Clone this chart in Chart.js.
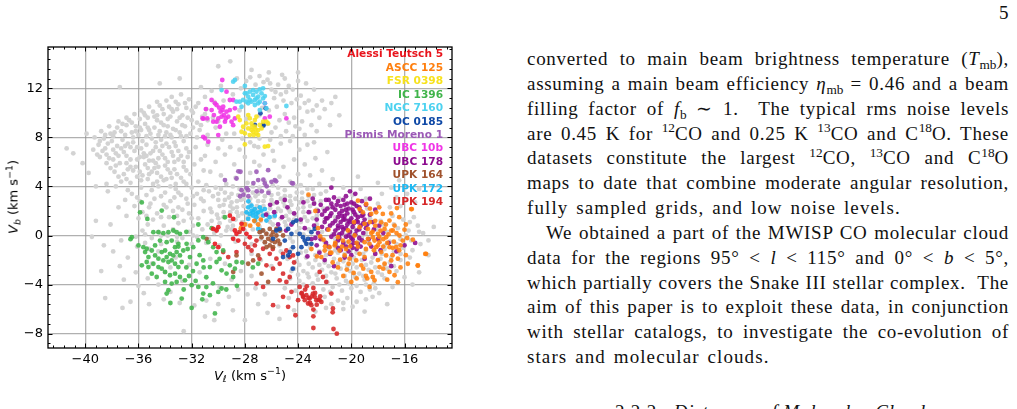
<!DOCTYPE html>
<html>
<head>
<meta charset="utf-8">
<script src="https://cdn.jsdelivr.net/npm/chart.js@4.4.1/dist/chart.umd.min.js"></script>
<style>
  html, body { margin: 0; padding: 0; background: #fff; width: 1017px; height: 409px; overflow: hidden; }
  #wrap { position: absolute; left: 0; top: 0; width: 470px; height: 400px; }
  .axt { position: absolute; font: 13px 'DejaVu Sans', sans-serif; color: #000; white-space: nowrap; }
  .axt sub, .axt sup { font-size: 0.72em; line-height: 0; }
  .axt sub { vertical-align: -0.3em; }
  .axt sup { vertical-align: 0.55em; }
  #ytitle { left: 13px; top: 197px; transform: translate(-50%, -50%) rotate(-90deg); }
  #xtitle { left: 250px; top: 375px; transform: translate(-50%, -50%); }
  #paper { position: absolute; left: 527px; top: 47px; width: 482px; font: 19px 'Liberation Serif', serif; letter-spacing: 0.7px; line-height: 24.85px; color: #111; }
  .ln { text-align: justify; text-align-last: justify; white-space: nowrap; }
  .ln.last { text-align-last: left; letter-spacing: 1.1px; word-spacing: 2px; }
  .ln.ind { padding-left: 19px; }
  .sb, .sp { font-size: 0.7em; line-height: 0; position: relative; letter-spacing: 0; }
  .sb { top: 0.3em; }
  .sp { top: -0.55em; }
  #pageno { position: absolute; left: 999px; top: 1px; font: 19px 'Liberation Serif', serif; line-height: 24.85px; color: #111; }
  #sect { position: absolute; left: 615px; top: 400px; font: 19px 'Liberation Serif', serif; letter-spacing: 0.8px; line-height: 24.85px; color: #111; white-space: nowrap; }
</style>
</head>
<body>
<div id="wrap"><canvas id="c"></canvas></div>
<div id="ytitle" class="axt"><i>V</i><sub><i>b</i></sub> (km s<sup>−1</sup>)</div>
<div id="xtitle" class="axt"><i>V</i><sub><i>ℓ</i></sub> (km s<sup>−1</sup>)</div>

<div id="pageno">5</div>
<div id="paper">
  <div class="ln">converted to main beam brightness temperature (<i>T</i><span class="sb">mb</span>),</div>
  <div class="ln">assuming a main beam efficiency <i>η</i><span class="sb">mb</span> = 0.46 and a beam</div>
  <div class="ln">filling factor of <i>f</i><span class="sb">b</span> ∼ 1.&nbsp; The typical rms noise levels</div>
  <div class="ln">are 0.45 K for <span class="sp">12</span>CO and 0.25 K <span class="sp">13</span>CO and C<span class="sp">18</span>O. These</div>
  <div class="ln">datasets constitute the largest <span class="sp">12</span>CO, <span class="sp">13</span>CO and C<span class="sp">18</span>O</div>
  <div class="ln">maps to date that combine moderate angular resolution,</div>
  <div class="ln last">fully sampled grids, and low noise levels.</div>
  <div class="ln ind">We obtained a part of the MWISP CO molecular cloud</div>
  <div class="ln">data for the regions 95° &lt; <i>l</i> &lt; 115° and 0° &lt; <i>b</i> &lt; 5°,</div>
  <div class="ln">which partially covers the Snake III stellar complex.&nbsp; The</div>
  <div class="ln">aim of this paper is to exploit these data, in conjunction</div>
  <div class="ln">with stellar catalogs, to investigate the co-evolution of</div>
  <div class="ln last">stars and molecular clouds.</div>
</div>
<div id="sect">2.2.2.&nbsp; <i>Distances of Molecular Clouds</i></div>

<script>
// ---- Axis ranges / ticks (km/s) ----
var X_MIN = -42.8, X_MAX = -12.43;
var Y_MIN = -9.17, Y_MAX = 15.37;
var MAJOR = 4, MINOR = 0.8;

// ---- Cluster names + colours (legend order) ----
var NAMES = ['Alessi Teutsch 5', 'ASCC 125', 'FSR 0398', 'IC 1396', 'NGC 7160', 'OC 0185',
  'Pismis Moreno 1', 'UBC 10b', 'UBC 178', 'UPK 164', 'UPK 172', 'UPK 194'];
var COLORS = ['#e8141c', '#ff7f0e', '#f7e21c', '#3fb44a', '#4dd2f0', '#0e48a6',
  '#9b59b6', '#f034e6', '#8c0a8e', '#a0522d', '#1db9f3', '#d62728'];

// ---- Field stars (grey) [Vl, Vb] ----
var gray = [
  // upper-left band
  [-33.5,11.3],[-32.8,11.5],[-33.9,11.0],[-32.2,11.1],[-34.6,10.9],[-31.5,10.8],
  [-35.2,10.5],[-34.4,10.6],[-33.7,10.5],[-33.0,10.7],[-32.4,10.4],[-31.7,10.5],[-30.9,10.3],[-35.8,10.2],
  [-36.3,9.9],[-35.6,10.0],[-34.9,10.1],[-34.1,9.9],[-33.4,10.1],[-32.7,9.8],[-31.9,10.0],[-31.2,9.7],[-36.9,9.6],
  [-37.5,9.3],[-36.7,9.4],[-35.9,9.5],[-35.3,9.6],[-34.6,9.4],[-33.8,9.5],[-33.1,9.3],[-32.3,9.6],[-31.6,9.2],[-30.8,9.4],
  [-38.2,8.9],[-37.6,8.8],[-36.9,9.0],[-36.2,8.9],[-35.5,9.1],[-34.8,8.8],[-34.1,9.0],[-33.4,8.7],[-32.7,9.0],[-31.9,8.8],
  [-38.8,8.5],[-38.1,8.3],[-37.3,8.5],[-36.5,8.4],[-35.8,8.6],[-35.1,8.3],[-34.4,8.5],[-33.6,8.2],[-32.9,8.4],[-32.1,8.3],[-31.4,8.6],
  [-39.3,8.0],[-38.6,7.9],[-37.9,8.1],[-37.2,7.8],[-36.4,8.0],[-35.7,7.7],[-35.0,7.9],[-34.3,7.8],[-33.5,8.0],[-32.6,7.7],
  [-39.0,7.4],[-38.3,7.5],[-37.6,7.3],[-36.8,7.5],[-36.1,7.2],[-35.4,7.4],[-34.7,7.2],[-33.9,7.5],[-33.2,7.3],[-32.4,7.1],
  [-39.4,7.0],[-38.7,6.9],[-37.9,7.0],[-37.1,6.8],[-36.3,6.9],[-35.6,6.7],[-34.9,6.9],[-34.2,6.6],[-33.5,6.8],[-32.8,6.5],
  [-38.9,6.4],[-38.2,6.3],[-37.5,6.5],[-36.6,6.2],[-35.9,6.4],[-35.2,6.1],[-34.5,6.3],[-33.8,6.0],[-33.0,6.2],[-32.3,6.4],
  [-38.4,5.9],[-37.7,5.7],[-36.9,5.9],[-36.2,5.6],[-35.5,5.8],[-34.8,5.5],[-34.0,5.7],[-33.3,5.4],[-32.6,5.6],[-31.8,5.8],
  [-37.8,5.2],[-37.1,5.0],[-36.4,5.3],[-35.7,4.9],[-35.0,5.2],[-34.3,4.8],[-33.6,5.1],[-32.8,4.7],[-32.1,5.0],
  [-37.3,4.4],[-36.6,4.3],[-35.8,4.5],[-34.9,4.2],[-34.1,4.5],[-33.2,4.2],[-31.5,4.4],
  [-41.4,7.1],[-40.9,6.7],[-39.75,5.1],[-38.4,4.2],[-37.4,12.1],[-34.4,12.4],[-40.2,5.9],[-39.9,8.3],
  [-36.0,8.2],[-35.3,8.8],[-34.6,9.8],[-33.8,8.9],[-33.1,10.3],[-32.5,8.9],[-37.0,7.3],[-36.4,7.6],[-35.6,6.4],
  [-34.9,6.1],[-34.2,7.3],[-33.3,6.0],[-36.8,5.4],[-35.2,5.0],[-34.5,5.6],[-33.9,4.6],[-37.9,6.2],[-38.5,7.1],
  [-33.2,10.9],[-32.5,10.8],[-34.2,10.3],[-33.5,10.3],[-32.0,10.2],[-35.5,9.8],[-34.8,9.7],[-34.3,9.2],[-33.6,9.7],
  [-32.9,9.6],[-32.0,9.4],[-31.3,9.0],[-37.2,9.1],[-36.5,9.2],[-35.9,8.8],[-35.2,8.6],[-34.5,8.2],[-33.9,8.4],[-33.2,8.6],
  [-32.4,8.1],[-31.6,8.0],[-38.5,8.2],[-37.8,8.4],[-37.0,8.2],[-36.2,8.5],[-35.4,8.1],[-34.7,7.6],[-34.0,8.1],[-33.3,7.6],
  [-32.8,8.1],[-38.9,7.7],[-38.0,7.7],[-37.3,7.1],[-36.6,7.2],[-35.8,7.1],[-35.1,6.7],[-34.4,6.9],[-33.7,7.2],[-33.0,6.9],
  [-32.2,6.8],[-39.1,6.6],[-38.4,6.6],[-37.7,6.7],[-36.9,6.5],[-36.1,6.2],[-35.4,6.5],[-34.7,5.9],[-34.0,6.3],[-33.4,6.5],
  [-32.6,6.0],[-38.1,5.5],[-37.4,5.9],[-36.6,5.6],[-35.9,5.2],[-35.3,5.5],[-34.6,5.1],[-33.8,5.4],[-33.1,5.0],[-32.4,5.3],
  [-37.5,4.8],[-36.9,4.6],[-36.1,4.8],[-35.3,4.6],[-34.6,4.4],[-33.5,4.7],[-32.6,4.4],[-31.1,5.3],[-31.3,6.2],[-30.8,8.2],
  [-31.0,9.9],[-30.4,9.6],
  // around the upper clusters
  [-30.5,11.8],[-29.8,12.2],[-28.9,11.5],[-28.3,12.0],[-27.9,12.6],[-27.2,12.3],[-26.6,12.5],[-26.0,11.9],[-25.5,12.3],
  [-24.9,11.7],[-24.4,11.9],[-23.8,11.4],[-23.2,11.0],[-22.6,10.6],[-25.8,11.2],[-25.1,11.0],[-24.5,10.8],[-23.9,10.4],
  [-23.3,10.1],[-26.2,10.2],[-25.6,10.5],[-25.0,9.9],[-24.3,9.6],[-23.7,9.3],[-26.9,9.8],[-26.3,9.1],[-25.7,8.8],
  [-24.9,8.5],[-24.2,8.9],[-23.5,8.2],[-28.8,8.3],[-28.2,7.9],[-27.6,7.6],[-26.9,7.9],[-26.1,7.8],[-25.3,7.5],[-24.6,7.7],
  [-30.2,8.8],[-30.8,7.4],[-29.7,7.8],[-29.1,7.2],[-23.0,9.0],[-22.4,9.6],[-22.0,10.3],[-21.5,10.8],[-21.2,11.3],
  [-22.8,11.9],[-24.0,12.6],[-23.4,12.4],[-25.2,13.1],[-29.1,14.2],[-30.0,13.8],[-27.5,13.5],[-26.2,13.3],[-32.9,12.8],
  [-31.3,12.1],[-28.4,10.2],[-27.9,9.5],[-26.7,10.4],[-29.6,11.0],[-30.3,10.9],[-31.0,11.3],[-25.0,12.8],[-24.0,13.3],
  [-28.6,12.8],[-27.6,12.9],[-26.9,13.0],[-26.3,12.7],[-25.7,11.7],[-25.3,11.5],[-24.7,12.2],[-24.1,11.1],[-23.5,10.8],
  [-22.9,10.2],[-25.4,9.4],[-24.7,9.2],[-23.9,8.7],[-26.0,8.4],[-25.3,8.1],[-24.4,8.1],[-27.3,7.3],[-28.4,7.0],[-29.4,8.3],
  [-30.0,9.3],[-23.3,7.4],[-22.6,8.5],[-22.2,11.0],[-26.1,12.4],
  [-31.0,6.5],[-30.2,6.0],[-29.5,6.6],[-28.8,5.8],[-28.0,6.4],[-27.3,6.0],[-26.6,6.6],[-25.8,6.1],[-25.1,5.6],[-24.3,6.2],
  [-23.5,5.8],[-22.7,6.3],[-30.6,5.2],[-29.8,4.9],[-28.7,4.7],[-27.6,5.1],[-26.9,5.7],[-25.4,4.8],[-24.0,5.0],[-23.1,4.9],
  [-22.2,5.3],[-21.4,4.6],[-31.7,7.2],[-30.0,7.1],[-27.0,7.2],[-25.9,6.9],[-23.9,7.0],[-22.8,7.6],[-21.8,6.8],
  // central cloud
  [-35.8,3.9],[-34.5,4.0],[-33.2,3.8],[-32.0,3.9],[-30.9,4.1],[-29.8,3.8],[-28.9,4.0],[-27.8,4.3],[-26.9,3.9],[-25.9,4.1],
  [-25.0,3.7],[-24.1,4.0],[-23.3,3.8],[-22.4,4.2],
  [-36.5,3.4],[-35.4,3.3],[-34.0,3.5],[-32.8,3.3],[-31.6,3.4],[-30.4,3.2],[-29.5,3.5],[-28.5,3.3],[-27.4,3.5],[-26.5,3.2],
  [-25.5,3.4],[-24.6,3.2],[-23.7,3.5],[-22.8,3.3],[-21.9,3.6],
  [-37.0,2.9],[-35.9,2.8],[-34.8,3.0],[-33.6,2.8],[-32.4,3.0],[-31.1,2.8],[-30.0,2.9],[-29.0,2.7],[-28.1,3.0],[-27.0,2.8],
  [-26.0,2.9],[-25.1,2.7],[-24.2,3.0],[-23.3,2.8],
  [-36.3,2.4],[-35.2,2.3],[-34.1,2.5],[-33.0,2.3],[-31.8,2.5],[-30.6,2.2],[-29.6,2.5],[-28.6,2.3],[-27.6,2.6],[-26.6,2.4],
  [-25.5,2.2],[-24.5,2.5],[-23.6,2.3],[-22.6,2.1],
  [-35.7,1.9],[-34.6,1.8],[-33.4,2.0],[-32.2,1.8],[-31.1,2.0],[-30.1,1.7],[-29.1,1.9],[-28.2,1.8],[-27.3,2.1],[-26.3,1.8],
  [-25.3,2.0],[-24.2,1.7],[-23.1,1.9],
  [-36.0,1.4],[-34.9,1.3],[-33.7,1.5],[-32.6,1.2],[-31.5,1.4],[-30.5,1.2],[-29.6,1.5],[-28.7,1.3],[-27.8,1.4],[-26.8,1.2],
  [-25.8,1.5],[-24.7,1.3],[-23.8,1.1],[-22.9,1.4],
  [-35.3,0.9],[-34.1,0.8],[-33.0,1.0],[-31.9,0.8],[-30.8,0.9],[-29.9,1.0],[-28.9,0.8],[-27.9,0.9],[-26.9,0.7],[-25.9,0.9],
  [-24.9,0.8],[-23.9,0.6],[-22.6,0.9],
  [-35.7,0.4],[-34.5,0.3],[-33.4,0.5],[-32.2,0.3],[-31.2,0.5],[-30.3,0.2],[-29.4,0.4],[-28.4,0.3],[-27.4,0.5],[-26.4,0.2],
  [-25.3,0.4],[-24.1,0.3],[-23.2,0.5],
  [-36.2,-0.1],[-35.0,-0.2],[-33.8,0.0],[-32.7,-0.2],[-31.6,-0.1],[-30.7,-0.3],[-29.8,0.0],[-28.9,-0.2],[-27.9,-0.1],
  [-26.8,-0.3],[-25.7,-0.1],[-24.6,-0.2],[-23.6,0.1],
  [-35.5,-0.6],[-34.3,-0.7],[-33.1,-0.5],[-32.0,-0.7],[-30.9,-0.6],[-29.9,-0.8],[-28.7,-0.5],[-27.5,-0.7],[-26.5,-0.6],
  [-25.4,-0.8],[-24.4,-0.5],[-23.3,-0.7],
  [-30.7,3.6],[-29.2,3.1],[-28.3,2.9],[-27.2,3.2],[-26.2,3.6],[-25.3,3.0],[-24.7,2.1],[-23.9,2.7],[-29.9,2.4],[-28.9,2.2],
  [-27.9,1.9],[-26.9,2.1],[-25.9,2.6],[-24.9,1.6],[-31.3,3.0],[-32.3,2.6],[-33.3,3.1],[-30.5,1.9],[-29.3,0.7],[-28.5,1.6],
  [-27.0,1.6],[-26.1,1.1],[-25.0,1.1],[-23.5,1.5],[-22.3,2.8],[-21.6,2.3],[-36.9,1.6],[-37.5,2.3],[-38.1,0.9],[-37.3,-0.4],
  [-38.6,-0.8],[-39.5,-0.1],[-38.3,3.6],[-39.2,4.0],[-37.7,4.0],
  [-30.2,3.9],[-29.4,4.2],[-28.4,3.8],[-27.4,4.0],[-26.5,4.4],[-25.5,3.9],[-24.6,4.4],[-23.8,4.1],[-22.9,3.8],[-30.0,3.4],
  [-29.0,3.4],[-28.0,3.6],[-27.0,3.4],[-26.0,3.3],[-25.0,3.2],[-24.1,3.5],[-23.2,3.2],[-22.3,3.4],[-29.5,2.9],[-28.6,2.8],
  [-27.6,3.0],[-26.6,2.8],[-25.6,2.7],[-24.6,2.8],[-23.7,3.0],[-22.8,2.7],[-29.1,2.4],[-28.1,2.4],[-27.1,2.4],[-26.1,2.2],
  [-25.0,2.4],[-24.0,2.2],[-23.1,2.4],[-22.1,2.2],[-29.6,1.9],[-28.6,1.9],[-27.7,1.6],[-26.7,1.7],[-25.7,1.9],[-24.6,1.9],
  [-23.6,1.9],[-22.6,1.6],[-30.0,1.4],[-29.1,1.2],[-28.2,1.1],[-27.2,1.1],[-26.2,1.5],[-25.3,1.4],[-24.3,1.3],[-23.3,1.2],
  [-32.0,1.4],[-33.1,1.6],[-34.3,1.5],[-35.4,1.6],[-32.7,2.1],[-33.9,2.3],[-35.1,2.6],[-36.1,3.1],[-34.3,3.2],[-33.0,3.5],
  [-31.9,3.2],[-31.1,3.7],[-32.4,4.2],[-33.6,4.0],[-35.0,3.7],[-36.8,3.7],[-30.1,0.5],[-29.0,0.5],[-28.0,0.4],[-26.9,0.3],
  [-31.9,0.0],[-33.1,-0.1],[-34.3,0.0],[-35.5,0.1],
  // lower-right cloud
  [-24.5,-1.1],[-23.8,-1.4],[-23.1,-1.0],[-22.4,-1.3],[-21.7,-1.1],[-21.0,-1.4],[-20.3,-1.1],[-19.6,-1.4],[-18.9,-1.2],
  [-18.2,-1.4],[-17.5,-1.1],[-16.8,-1.3],[-16.1,-1.0],[-15.4,-1.2],
  [-24.8,-1.9],[-24.1,-2.1],[-23.4,-1.8],[-22.7,-2.0],[-22.0,-2.2],[-21.3,-1.9],[-20.6,-2.1],[-19.9,-2.3],[-19.2,-2.0],
  [-18.5,-2.2],[-17.8,-1.9],[-17.1,-2.2],[-16.3,-2.0],[-15.6,-1.8],
  [-24.3,-2.7],[-23.6,-2.9],[-22.9,-2.6],[-22.2,-2.8],[-21.5,-3.0],[-20.8,-2.7],[-20.1,-2.9],[-19.4,-3.1],[-18.7,-2.8],
  [-18.0,-3.0],[-17.3,-2.7],[-16.6,-2.9],
  [-24.6,-3.5],[-23.9,-3.7],[-23.2,-3.4],[-22.5,-3.6],[-21.8,-3.8],[-21.1,-3.5],[-20.4,-3.7],[-19.7,-3.4],[-19.0,-3.6],
  [-18.3,-3.9],[-17.5,-3.5],
  [-25.0,-4.3],[-24.2,-4.5],[-22.1,-4.4],[-21.4,-4.2],[-20.7,-4.5],[-20.0,-4.3],[-19.3,-4.6],[-18.6,-4.4],[-17.9,-4.7],
  [-24.7,-5.1],[-22.0,-5.0],[-21.0,-5.3],[-20.3,-5.1],[-19.6,-5.4],[-18.9,-5.2],[-17.3,-5.6],
  [-25.5,-5.8],[-24.3,-6.1],[-22.7,-6.2],[-21.9,-5.9],[-20.6,-6.0],[-19.0,-6.2],[-26.5,-4.8],[-27.2,-4.3],
  [-22.0,-0.5],[-21.2,-0.8],[-20.4,-0.6],[-19.5,-0.5],[-18.7,-0.6],[-17.9,-0.2],[-17.1,-0.5],[-16.3,-0.3],[-15.5,-0.4],
  [-14.8,-0.7],[-14.2,-0.4],[-22.2,0.3],[-21.4,0.1],[-20.6,0.4],[-19.8,0.6],[-18.9,0.2],[-18.1,0.5],[-17.3,0.3],
  [-16.5,0.6],[-15.7,0.4],[-15.0,0.8],[-14.6,0.2],[-22.0,1.3],[-21.2,1.5],[-20.3,1.2],[-19.5,1.6],[-18.6,1.4],[-17.8,1.2],
  [-16.9,1.6],[-16.1,1.3],[-15.3,1.5],[-21.5,2.4],[-20.5,2.1],[-19.7,2.5],[-18.8,2.2],[-18.0,2.6],[-17.1,2.3],[-16.3,2.4],
  [-15.2,2.7],[-20.9,3.0],[-19.9,3.3],[-18.9,3.0],[-17.7,3.4],[-16.6,3.1],[-19.3,3.8],[-20.6,3.9],[-18.0,4.3],[-17.0,3.9],
  [-15.8,3.4],[-14.2,-1.6],[-13.8,0.7],[-14.9,-3.0],[-16.0,-3.4],[-15.4,-4.0],[-16.9,-4.2],[-21.6,9.0],[-20.9,9.8],
  [-19.5,4.8],[-14.9,3.8],[-16.4,4.5],
  [-23.4,-1.3],[-22.7,-1.6],[-21.9,-1.6],[-21.2,-1.2],[-20.5,-1.5],[-19.8,-1.8],[-19.1,-1.5],[-18.4,-1.8],[-17.7,-1.5],
  [-17.0,-1.8],[-16.3,-1.5],[-23.9,-2.4],[-23.2,-2.3],[-22.4,-2.4],[-21.7,-2.5],[-21.0,-2.3],[-20.3,-2.5],[-19.6,-2.6],
  [-18.9,-2.4],[-18.2,-2.6],[-17.5,-2.4],[-16.8,-2.5],[-24.0,-3.2],[-23.3,-3.1],[-22.6,-3.2],[-21.9,-3.3],[-21.2,-3.1],
  [-20.5,-3.3],[-19.8,-3.1],[-19.1,-3.3],[-18.4,-3.4],[-17.7,-3.2],[-23.6,-4.0],[-22.9,-3.9],[-21.6,-4.6],[-20.9,-4.0],
  [-20.2,-3.9],[-19.6,-4.1],[-18.9,-4.0],[-18.2,-4.3],[-21.5,-5.6],[-20.6,-5.5],[-19.9,-5.8],[-18.4,-5.0],[-21.2,-0.3],
  [-20.4,0.0],[-19.2,-0.1],[-17.5,-0.8],[-16.6,-0.7],[-15.9,0.0],[-16.8,0.9],[-17.6,0.9],[-15.6,1.1],[-14.9,0.3],
  // lower-left, around IC 1396
  [-37.9,-1.3],[-36.8,-1.8],[-37.4,-2.5],[-36.2,-3.0],[-37.1,-3.6],[-36.0,-4.1],[-35.3,-3.5],[-34.5,-4.0],[-33.6,-4.6],
  [-35.6,-4.7],[-36.6,-5.4],[-35.2,-5.6],[-34.1,-5.2],[-32.9,-5.5],[-31.8,-5.7],[-30.9,-5.3],[-30.0,-5.6],[-29.2,-5.0],
  [-28.5,-4.4],[-29.0,-3.6],[-28.3,-2.9],[-27.5,-3.3],[-27.8,-4.8],[-28.9,-6.1],[-31.0,-6.6],[-30.3,-6.9],[-32.6,-7.8],
  [-37.2,-5.9],[-38.5,-5.1],[-34.5,-1.3],[-33.2,-1.8],[-32.2,-2.4],[-31.4,-3.0],[-34.0,-3.0],[-35.0,-2.3],[-30.6,-1.9],
  [-29.5,-2.3],[-29.9,-4.2],[-31.5,-4.1],[-32.7,-3.7],[-33.6,-2.6],[-36.1,-0.9],[-35.2,-1.1],[-27.0,-5.6],[-26.3,-6.3],
  [-25.4,-6.8],[-28.0,-6.9],[-27.5,-1.5],[-26.8,-2.0],[-26.0,-2.5],[-25.3,-1.3],[-24.5,-2.9],[-39.2,1.2],[-38.8,-2.9]
];

// ---- Cluster members [Vl, Vb] ----
var alessiTeutsch5 = [
  [-30.38,0.54],[-30.13,0.41],[-30.0,0.68],[-29.13,1.62],[-28.88,1.35],[-28.75,0.41],[-28.63,0.14],[-28.88,-0.27],
  [-28.5,-0.41],[-28.25,0.95],[-28.13,0.54],[-27.88,0.14],[-27.63,-0.14],[-30.25,-0.68],[-30.0,-0.95]
];
var ascc125 = [
  [-19.5,2.84],[-18.88,2.57],[-19.38,2.16],[-19.13,1.89],[-18.5,1.76],[-18.13,1.89],[-17.63,1.76],[-17.13,1.22],
  [-16.75,0.81],[-16.88,0.41],[-17.5,0.54],[-18.0,0.14],[-18.38,-0.14],[-18.75,-0.27],[-18.25,-0.41],[-17.88,-0.54],
  [-18.63,-0.68],[-19.0,-0.54],[-18.13,-0.95],[-17.75,-1.35],[-17.38,-1.62],[-17.0,-2.03],[-16.5,-1.89],[-16.13,-0.41],
  [-16.38,0.0],[-15.75,-2.3],[-15.0,-2.43],[-15.5,2.16],[-14.38,-1.49],[-17.13,-2.97],[-16.75,-3.24],[-18.5,-2.97],
  [-18.38,-3.38],[-18.25,-3.65],[-18.63,-4.19],[-19.25,-2.43],[-19.63,-2.03],[-20.0,-3.78],[-22.0,-1.22],[-22.25,-1.76],
  [-21.63,-0.95],[-21.25,-0.81],[-20.88,-1.22],[-20.5,-1.62],[-20.13,-1.89],[-21.0,-0.14],[-20.63,-0.41],[-20.25,0.41],
  [-19.75,0.0],[-19.38,0.68],[-19.0,0.95],[-18.75,0.54],[-17.75,1.08],[-17.38,-0.14],[-17.13,-0.95],[-16.63,-0.95],
  [-17.5,-2.3],[-17.88,-2.57],[-19.0,-1.76],[-19.38,-1.49],[-16.0,0.48],[-15.37,-0.34],[-14.44,-1.5],[-15.0,-2.46],
  [-16.57,2.24],[-15.45,2.16],[-22.09,-0.34],[-21.72,0.48],[-21.59,-1.42],[-21.21,-0.61],[-20.84,-1.97],[-20.34,-2.78],
  [-19.83,-3.05],[-20.09,-0.88],[-23.22,3.33],[-22.34,-0.07],[-21.97,-0.88],[-22.59,-1.7],[-28.0,0.9],[-27.6,0.8],
  [-27.3,1.2],[-28.3,0.6],[-27.0,0.9],[-26.8,1.3],[-18.0,-0.8],[-18.4,0.3],[-17.6,-0.3],[-18.9,-1.1],[-17.2,0.1],
  [-16.4,-1.2],[-18.2,1.2],[-19.6,-0.6],[-20.4,-1.1],[-21.4,-2.2],[-16.9,-1.6],[-18.8,-3.5],
  [-18.6,1.1],[-18.2,0.8],[-17.8,0.4],[-17.4,0.9],[-17.0,0.4],[-16.6,0.2],[-17.9,-0.1],[-18.5,0.2],[-17.3,-0.6],
  [-16.8,-0.5],[-18.3,-1.2],[-17.6,-0.9],[-16.9,-1.0],[-16.3,-0.8],[-15.8,-0.2],[-15.9,0.9],[-16.4,1.5],[-17.0,1.8],
  [-17.9,2.3],[-18.6,2.2],[-19.8,1.1],[-19.5,-0.9],[-20.2,-0.5],[-20.7,-0.9],[-21.5,-1.4],[-20.2,-2.3],[-19.1,-2.7],
  [-18.0,-2.0],[-17.6,-2.7],[-16.3,-2.6],[-15.9,-1.6],[-18.9,-3.3],[-19.6,-3.5],[-17.3,-3.6],[-16.5,-3.8],[-20.6,-3.3],
  [-21.0,-2.6],[-22.7,2.0],[-22.5,0.6],[-23.0,-1.1]
];
var fsr0398 = [
  [-28.5,9.69],[-28.25,8.46],[-28.0,8.33],[-27.75,8.73],[-27.5,9.14],[-27.38,8.46],[-27.25,8.87],[-27.13,8.33],
  [-27.0,8.6],[-26.88,9.01],[-26.75,8.73],[-26.63,9.28],[-26.38,9.28],[-26.25,9.14],[-27.63,9.55],[-27.25,9.41],
  [-27.88,9.14],[-28.13,8.87],[-27.63,8.19],[-28.0,7.43],[-26.5,7.24],[-26.25,7.29],[-28.38,9.41],[-27.75,9.82],
  [-27.13,9.69],[-27.33,8.19],[-27.0,8.19],[-27.5,8.6],[-27.45,8.87],[-27.2,8.65]
];
var ic1396 = [
  [-35.75,2.7],[-35.88,1.89],[-35.33,1.35],[-34.25,2.03],[-33.33,1.49],[-36.5,-0.14],[-34.88,0.27],[-34.5,0.27],
  [-34.13,0.19],[-33.75,0.27],[-33.38,0.41],[-33.13,0.27],[-32.88,0.14],[-36.0,-0.81],[-35.63,-0.95],[-35.38,-1.08],
  [-35.5,-1.35],[-35.0,-1.22],[-35.25,-1.76],[-34.75,-1.62],[-34.5,-1.89],[-34.25,-1.35],[-34.0,-1.22],[-34.13,-2.03],
  [-33.88,-1.76],[-33.63,-1.49],[-33.38,-1.62],[-33.13,-1.35],[-32.88,-1.62],[-32.63,-1.22],[-33.75,-2.16],[-33.5,-2.03],
  [-33.25,-2.3],[-33.0,-2.57],[-32.75,-2.16],[-34.25,-2.7],[-34.0,-2.97],[-33.63,-3.24],[-33.25,-3.11],[-32.88,-3.38],
  [-35.0,-3.11],[-34.63,-3.38],[-35.25,-2.57],[-35.75,-2.43],[-35.38,-2.16],[-34.88,-2.3],[-34.5,-2.57],[-34.75,-0.81],
  [-34.38,-0.41],[-33.5,-0.41],[-33.0,-0.68],[-33.88,-0.54],[-33.25,-0.95],[-33.88,-4.73],[-33.75,-4.46],[-32.75,-5.14],
  [-33.13,-3.78],[-33.5,-3.92],[-34.0,-3.78],
  [-32.38,-0.68],[-31.88,-0.95],[-31.5,-0.4],[-31.13,-0.14],[-30.75,-0.54],[-30.38,-0.95],[-30.13,-1.35],[-29.63,-1.22],
  [-32.13,-1.76],[-31.63,-2.3],[-31.13,-2.03],[-30.63,-2.57],[-30.13,-2.16],[-29.75,-2.84],[-29.38,-3.1],[-29.13,-2.43],
  [-28.75,-2.7],[-28.63,-2.16],[-28.88,-3.38],[-32.5,-3.65],[-32.0,-4.05],[-31.5,-4.19],[-31.13,-4.73],[-30.63,-4.86],
  [-30.0,-4.6],[-29.75,-4.32],[-30.25,-6.35],[-29.5,1.49],
  [-32.3,-1.1],[-31.9,-2.9],[-31.4,-1.6],[-30.9,-3.4],[-31.7,-3.7],[-32.4,-2.6],[-30.4,-3.9],[-31.2,-5.2],[-32.0,-5.9],
  [-30.9,-4.2],[-32.6,-4.4],[-29.9,-1.9],[-30.5,0.6],[-31.5,0.9],[-32.4,0.3],[-28.2,-2.2],[-27.4,-2.6],[-27.0,-2.3],
  [-33.6,-5.5],[-29.4,-4.4],[-28.6,-4.1],[-33.0,-0.9],[-32.2,-3.3],[-31.1,-2.6],[-36.6,-0.3]
];
var ngc7160 = [
  [-28.88,12.54],[-28.75,12.68],[-29.75,11.86],[-28.0,12.19],[-27.88,11.59],[-28.0,11.59],[-27.75,11.32],[-27.63,11.73],
  [-27.38,11.46],[-27.25,11.05],[-27.13,11.73],[-27.0,11.32],[-26.88,10.91],[-26.75,11.59],[-26.63,11.18],[-27.5,10.91],
  [-27.75,10.78],[-27.25,10.64],[-27.0,10.78],[-26.5,10.78],[-28.13,11.05],[-28.38,10.91],[-28.63,10.91],[-26.63,12.0],
  [-26.38,10.37],[-24.88,10.56],[-26.88,10.23],[-28.25,10.5],[-27.63,11.05],[-27.13,11.18],[-27.38,11.86],[-26.88,11.92],
  [-26.5,11.37],[-27.88,10.91]
];
var oc0185 = [
  [-26.43,10.37],[-26.83,9.96],[-27.25,9.01],[-26.63,9.01],[-26.6,8.96],
  [-24.38,1.08],[-24.13,1.22],[-24.75,0.54],[-23.88,0.14],[-23.63,-0.14],[-23.5,-0.41],[-23.25,-0.27],[-23.0,0.27],
  [-22.75,0.54],[-23.75,-0.95],[-24.38,-0.95],[-24.63,-1.35],[-25.13,-1.76],[-24.0,-1.49],[-23.38,-0.68],[-25.63,0.41],
  [-25.38,0.54],[-25.88,-0.27],[-24.4,-2.7],[-24.75,-1.62],[-23.0,-0.68],[-25.0,-0.41],[-24.5,0.14]
];
var pismisMoreno1 = [
  [-28.33,5.2],[-29.5,4.52],[-28.63,4.65],[-28.25,3.7],[-27.75,3.7],[-27.0,4.52],[-26.5,4.24],[-26.25,5.33],[-26.0,4.38],
  [-25.75,4.52],[-24.38,4.24],[-27.13,5.2],[-28.49,5.23],[-27.86,3.87],[-27.11,3.6],[-26.73,3.6],[-26.36,4.01],
  [-26.23,3.47],[-27.36,4.28],[-28.11,3.33],[-27.74,3.2],[-26.61,4.55],[-25.65,4.42],[-24.47,4.28],[-28.36,3.2]
];
var ubc10b = [
  [-29.7,12.68],[-30.93,10.31],[-31.18,9.55],[-30.83,9.55],[-30.5,10.23],[-30.33,9.82],[-30.13,10.64],[-30.0,9.55],
  [-29.83,10.1],[-29.63,10.5],[-29.58,9.82],[-29.38,10.1],[-29.25,9.69],[-29.13,10.23],[-29.0,9.28],[-28.88,9.0],
  [-28.75,9.55],[-29.5,9.28],[-30.13,9.28],[-29.88,8.87],[-31.13,8.05],[-31.0,7.92],[-30.75,7.65],[-30.0,8.19],
  [-30.5,11.05],[-29.38,11.73],[-29.13,11.05],[-28.75,10.37],[-26.5,9.55],[-26.13,9.69],[-24.88,9.55],[-26.5,10.78],
  [-28.88,11.05],[-30.25,10.78],[-29.75,9.69],[-30.38,9.28],[-29.43,9.55],[-29.68,10.23],[-29.93,10.42],[-31.12,9.53]
];
var ubc178 = [
  [-21.5,2.6],[-21.0,2.8],[-20.5,2.5],[-20.0,2.7],[-19.6,2.4],[-21.8,2.2],[-21.2,2.1],[-20.7,2.0],[-20.2,2.2],[-19.8,1.9],
  [-19.3,2.0],[-22.2,1.7],[-21.6,1.6],[-21.0,1.5],[-20.5,1.6],[-20.0,1.4],[-19.5,1.5],[-19.0,1.3],[-22.0,1.1],[-21.4,1.0],
  [-20.8,1.1],[-20.3,0.9],[-19.8,1.0],[-19.3,0.8],[-18.8,0.9],[-21.8,0.5],[-21.2,0.4],[-20.6,0.5],[-20.1,0.3],[-19.6,0.4],
  [-19.1,0.2],[-21.5,-0.1],[-20.9,-0.2],[-20.4,-0.1],[-19.9,-0.3],[-19.4,-0.2],[-21.2,-0.7],[-20.6,-0.6],[-20.0,-0.8],
  [-19.5,-0.7],[-20.8,-1.2],[-20.2,-1.3],[-19.6,-1.1],[-22.5,0.2],[-22.8,0.8],[-23.0,-0.3],[-22.6,-0.8],[-22.3,2.5],
  [-21.3,3.1],[-20.4,3.2],[-19.2,2.8],[-18.6,1.7],[-18.3,0.5],[-18.0,-0.3],[-18.5,-0.9],[-17.6,0.2],[-17.2,-0.6],
  [-16.0,-0.8],[-16.6,-1.3],[-18.2,-1.5],[-19.0,-1.9],[-20.5,-1.8],[-21.6,-1.5],[-22.0,-2.0],[-21.3,-2.5],[-23.5,0.6],
  [-23.8,1.3],[-24.3,1.8],[-24.8,2.3],[-25.2,1.5],[-25.5,0.9],[-25.8,1.9],[-26.1,2.5],[-25.0,2.9],[-21.5,3.9],[-22.8,2.6],
  [-23.2,1.9],[-20.8,2.4],[-20.3,1.8],[-19.9,2.1],[-20.7,0.7],[-20.2,1.2],[-21.5,1.8],[-21.0,0.8],[-19.5,1.1],[-20.0,-0.2],
  [-20.9,0.1],[-21.9,-0.6],[-22.4,-1.4],[-23.3,-1.7],[-24.9,0.4],[-25.6,2.7],[-26.4,1.7],[-22.9,3.0],[-15.2,-0.6],
  [-17.0,-2.5],[-19.7,3.4],[-20.6,2.9],[-21.9,2.9],[-18.9,2.5],[-18.2,2.1],[-21.8,1.4],[-19.1,1.7],[-20.5,1.3],
  [-21.7,2.9],[-21.1,2.5],[-20.3,2.6],[-19.8,2.6],[-19.4,2.3],[-22.0,2.0],[-21.4,2.3],[-20.9,1.8],[-20.4,2.1],[-19.7,1.7],
  [-19.2,1.6],[-21.9,1.4],[-21.2,1.2],[-20.6,1.3],[-20.1,1.1],[-19.6,1.2],[-19.1,1.0],[-21.6,0.8],[-21.0,0.6],[-20.4,0.6],
  [-19.9,0.7],[-19.4,0.5],[-21.3,0.1],[-20.7,0.2],[-20.2,0.0],[-19.7,0.1],[-19.2,-0.4],[-21.0,-0.4],[-20.4,-0.9],
  [-19.8,-0.6],[-21.7,-0.9],[-22.3,-0.3],[-22.6,1.3],[-22.2,0.7],[-18.9,0.6],[-18.7,-0.3],[-19.3,-0.9],[-20.0,-1.6],
  [-18.4,1.1],[-22.5,2.0],[-23.6,2.7],[-24.5,0.9],[-20.1,3.6],[-18.6,3.0],[-17.9,0.8],[-17.8,-1.2],[-19.9,-1.0],
  [-21.0,-1.0],[-22.7,-0.2],[-20.7,1.6]
];
var upk164 = [
  [-26.63,0.41],[-26.38,0.14],[-26.13,0.54],[-25.88,0.27],[-25.63,0.0],[-25.38,0.41],[-26.25,-0.27],[-26.0,-0.41],
  [-25.75,-0.54],[-26.5,-0.54],[-25.5,-0.41],[-26.75,-0.14],[-26.13,-0.81],[-25.88,-0.95],[-25.13,0.0],[-26.88,0.27],
  [-26.38,-0.95],[-27.0,-1.62],[-27.38,-2.03],[-27.75,-2.3],[-28.88,-2.97],[-28.63,-1.62],[-26.75,-3.11],[-26.25,-3.78],
  [-30.88,-0.27],[-25.63,0.54],[-25.38,-0.68],[-26.0,0.0]
];
var upk172 = [
  [-27.75,2.3],[-27.5,2.03],[-27.25,2.16],[-27.0,1.89],[-26.75,2.03],[-26.63,1.62],[-27.38,1.62],[-27.63,1.76],
  [-27.13,1.49],[-26.88,2.3],[-26.5,2.16],[-27.88,1.89],[-26.38,1.22],[-27.5,2.43],[-27.25,1.22],[-26.75,0.41],
  [-27.0,0.54],[-26.13,1.49],[-25.75,1.62],[-27.75,1.35],[-27.13,1.81],[-27.38,1.89],[-27.74,2.79]
];
var upk194 = [
  [-27.13,-0.41],[-27.5,-1.22],[-27.25,-0.81],[-26.63,-1.08],[-26.13,-1.49],[-25.63,-1.89],[-25.13,-1.49],[-24.88,-1.22],
  [-24.63,-1.76],[-24.38,-1.62],[-25.38,-2.3],[-25.88,-2.7],[-25.13,-3.11],[-24.63,-3.38],[-24.88,-3.78],[-26.38,-2.43],
  [-27.13,-3.92],[-26.63,-4.19],[-25.13,-5.0],[-24.75,-5.81],[-24.5,-4.59],[-23.75,-4.73],[-23.63,-5.0],[-23.38,-4.86],
  [-23.13,-5.14],[-22.88,-4.73],[-22.63,-5.27],[-23.25,-5.54],[-23.0,-5.68],[-22.75,-5.0],[-23.5,-5.27],[-23.88,-4.19],
  [-24.0,-5.27],[-25.88,-5.68],[-25.38,-3.65],[-28.63,-1.35],[-29.25,-1.76],[-29.63,-1.35],[-28.0,-0.68],[-27.75,-0.95],
  [-23.72,-4.68],[-23.47,-4.41],[-23.22,-5.09],[-22.72,-4.68],[-22.47,-5.23],[-22.34,-4.96],[-23.1,-5.5],[-22.6,-5.64],
  [-23.35,-4.14],[-22.85,-4.28],[-23.6,-4.96],[-22.97,-4.96],[-24.2,-6.5],[-22.85,-6.04],[-22.85,-6.59],[-22.85,-7.54],
  [-21.34,-7.62],[-21.09,-8.0],[-21.4,-6.26],[-22.38,-2.97],[-22.13,-3.38],[-21.88,-3.78],[-21.5,-4.73],[-21.38,-5.95],
  [-22.38,-5.27],[-22.25,-5.41],[-24.3,-2.2],[-25.9,-1.1],[-26.9,-1.9],[-28.4,0.3]
];

var MEMBERS = [alessiTeutsch5, ascc125, fsr0398, ic1396, ngc7160, oc0185,
  pismisMoreno1, ubc10b, ubc178, upk164, upk172, upk194];

function pts(arr) { return arr.map(function (p) { return { x: p[0], y: p[1] }; }); }

// ---- Inward ticks + frame, matplotlib style ----
var frameTicks = {
  id: 'frameTicks',
  afterDraw: function (chart) {
    var ctx = chart.ctx, a = chart.chartArea;
    var xs = chart.scales.x, ys = chart.scales.y;
    ctx.save();
    ctx.strokeStyle = '#000';
    ctx.lineWidth = 1;
    var v, p, len;
    for (v = -44; v <= -12; v = Math.round((v + MINOR) * 10) / 10) {
      if (v < X_MIN || v > X_MAX) continue;
      p = Math.round(xs.getPixelForValue(v)) + 0.5;
      len = (Math.abs(v % MAJOR) < 1e-6) ? 4.5 : 2.5;
      ctx.beginPath();
      ctx.moveTo(p, a.bottom); ctx.lineTo(p, a.bottom - len);
      ctx.moveTo(p, a.top); ctx.lineTo(p, a.top + len);
      ctx.stroke();
    }
    for (v = -12; v <= 16; v = Math.round((v + MINOR) * 10) / 10) {
      if (v < Y_MIN || v > Y_MAX) continue;
      p = Math.round(ys.getPixelForValue(v)) + 0.5;
      len = (Math.abs(v % MAJOR) < 1e-6) ? 4.5 : 2.5;
      ctx.beginPath();
      ctx.moveTo(a.left, p); ctx.lineTo(a.left + len, p);
      ctx.moveTo(a.right, p); ctx.lineTo(a.right - len, p);
      ctx.stroke();
    }
    ctx.lineWidth = 1.3;
    ctx.strokeRect(a.left, a.top, a.right - a.left, a.bottom - a.top);
    ctx.restore();
  }
};

// ---- Coloured-text legend, top right inside the axes ----
var textLegend = {
  id: 'textLegend',
  afterDatasetsDraw: function (chart) {
    var ctx = chart.ctx, a = chart.chartArea;
    ctx.save();
    ctx.font = 'bold 10.6px "DejaVu Sans"';
    ctx.textAlign = 'right';
    ctx.textBaseline = 'middle';
    NAMES.forEach(function (n, i) {
      ctx.fillStyle = COLORS[i];
      ctx.fillText(n, a.right - 9, a.top + 7.5 + i * 13.45);
    });
    ctx.restore();
  }
};

var datasets = MEMBERS.map(function (arr, i) {
  return { label: NAMES[i], data: pts(arr), backgroundColor: COLORS[i] + 'e0',
    borderWidth: 0, pointRadius: 2.4, order: 0 };
});
datasets.push({ label: 'field', data: pts(gray), backgroundColor: '#d3d3d3',
  borderWidth: 0, pointRadius: 2.4, order: 1 });

function minusFmt(v) { return String(v).replace('-', '\u2212'); }

new Chart(document.getElementById('c'), {
  type: 'scatter',
  data: { datasets: datasets },
  options: {
    responsive: true, maintainAspectRatio: false, animation: false,
    layout: { padding: { left: 8, right: 18, top: 47, bottom: 22 } },
    plugins: { legend: { display: false }, tooltip: { enabled: false } },
    scales: {
      x: {
        type: 'linear', min: X_MIN, max: X_MAX,
        afterFit: function (s) { s.height = 30; },
        grid: { color: 'rgba(150,150,150,0.75)', lineWidth: 1.3, drawTicks: false },
        border: { display: false },
        ticks: { stepSize: MAJOR, includeBounds: false, padding: 4, color: '#000',
          font: { family: 'DejaVu Sans', size: 13 }, maxRotation: 0, callback: minusFmt }
      },
      y: {
        type: 'linear', min: Y_MIN, max: Y_MAX,
        afterFit: function (s) { s.width = 40; },
        grid: { color: 'rgba(150,150,150,0.75)', lineWidth: 1.3, drawTicks: false },
        border: { display: false },
        ticks: { stepSize: MAJOR, includeBounds: false, padding: 5, color: '#000',
          font: { family: 'DejaVu Sans', size: 13 }, callback: minusFmt }
      }
    }
  },
  plugins: [frameTicks, textLegend]
});
</script>
</body>
</html>
